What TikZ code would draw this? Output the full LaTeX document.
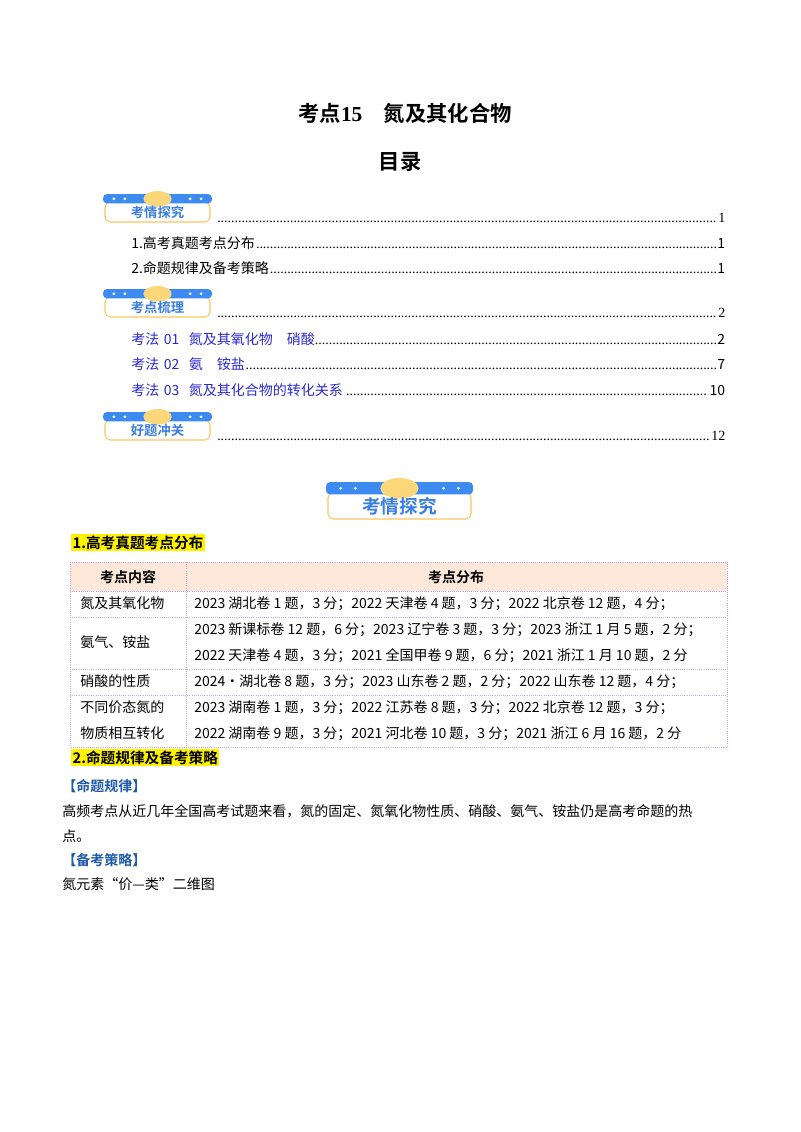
\documentclass[tikz,border=0pt]{standalone}
\usepackage{fontspec}
\setmainfont{Liberation Serif}
\newfontfamily\cjk{Noto Sans CJK SC}
\newfontfamily\cjkb{Noto Sans CJK SC Bold}
\newcommand{\dfill}{\leaders\hbox to 2.6pt{\hss\rmfamily.\hss}\hfill}
\begin{document}
\begin{tikzpicture}[x=0.75pt,y=-0.75pt,
  body/.style={font=\fontsize{10.5pt}{13pt}\selectfont, inner sep=0pt},
  tocrow/.style={body, anchor=base west, text width=#1*0.75pt, align=left},
  hl/.style={fill=yellow, inner sep=1pt, anchor=base west, font=\fontsize{11pt}{13pt}\selectfont},
  cell/.style={body, anchor=base west},
  tline/.style={draw=tabline, densely dotted, line width=0.6pt},
  sect/.style={body, anchor=base west, text=sectblue}
]
\definecolor{tocblue}{HTML}{2A2AD0}
\definecolor{badgeblue}{HTML}{3D8BF0}
\definecolor{badgeyel}{HTML}{FCD77A}
\definecolor{badgetext}{HTML}{3A7FE0}
\definecolor{tabline}{HTML}{C9A6DC}
\definecolor{tabhead}{HTML}{FDE8DA}
\definecolor{sectblue}{HTML}{1F5BA8}
\useasboundingbox (0,0) rectangle (800,1132);
\fill[white] (0,0) rectangle (800,1132);
\newcommand{\mybadgeT}[6]{%
  \pgfmathsetmacro{\bm}{(#1+#3)/2}%
  \pgfmathsetmacro{\bh}{(#4-#2)}%
  \pgfmathsetmacro{\bw}{(#3-#1)}%
  \draw[badgeyel!80!orange, line width=0.8pt, fill=white, rounded corners=4pt] ({#1+2},{#2+0.35*\bh}) rectangle ({#3-2},{#4});
  \fill[badgeblue, rounded corners=3pt] ({#1},{#2+0.1*\bh}) rectangle ({#3},{#2+0.4*\bh});
  \fill[badgeyel] ({\bm},{#2+0.25*\bh}) ellipse ({0.13*\bw} and {0.25*\bh});
  \foreach \dx in {0.1,0.2} {\fill[white] ({#1+\dx*\bw},{#2+0.25*\bh}) circle (1.5);
    \fill[white] ({#3-\dx*\bw},{#2+0.25*\bh}) circle (1.5);}
  \node[text=badgetext, font=\cjkb\fontsize{#5}{#5}\selectfont, inner sep=0pt] at ({\bm},{#2+0.7*\bh}) {#6};
}
% titles
\node[font=\cjkb\fontsize{16pt}{18pt}\selectfont] (title) at (405,113) {考点{\rmfamily\bfseries 15}\quad 氮及其化合物};
\node[font=\cjkb\fontsize{16pt}{18pt}\selectfont] (mulu) at (400,162) {目录};
% TOC
\mybadgeT{103}{191}{212}{222}{10pt}{考情探究}
\node[tocrow=508] (t0) at (217,222) {\dfill 1};
\node[tocrow=594] (t1) at (131,248) {\cjk 1.高考真题考点分布\dfill 1};
\node[tocrow=594] (t2) at (131,273) {\cjk 2.命题规律及备考策略\dfill 1};
\mybadgeT{103}{286}{212}{317}{10pt}{考点梳理}
\node[tocrow=508] (t3) at (217,317) {\dfill 2};
\node[tocrow=594] (t4) at (131,344) {\cjk{\color{tocblue}考法 01\ \ 氮及其氧化物\quad 硝酸}\dfill 2};
\node[tocrow=594] (t5) at (131,369) {\cjk{\color{tocblue}考法 02\ \ 氨\quad 铵盐}\dfill 7};
\node[tocrow=594] (t6) at (131,395) {\cjk{\color{tocblue}考法 03\ \ 氮及其化合物的转化关系}\dfill 10};
\mybadgeT{103}{409}{212}{440}{10pt}{好题冲关}
\node[tocrow=508] (t7) at (217,440) {\dfill 12};
% big badge
\mybadgeT{326}{478}{473}{519}{14pt}{考情探究}
% section 1
\node[hl] (h1) at (71,548) {\cjkb 1.高考真题考点分布};
% table
\fill[tabhead] (70,562) rectangle (727,591);
\draw[tline] (70,562) rectangle (727,747);
\foreach \yy in {591,617,669,695} \draw[tline] (70,\yy) -- (727,\yy);
\draw[tline] (186,562) -- (186,747);
\node[body, font=\cjkb\fontsize{10.5pt}{13pt}\selectfont] (c00) at (128,577) {考点内容};
\node[body, font=\cjkb\fontsize{10.5pt}{13pt}\selectfont] (c01) at (456,577) {考点分布};
\node[cell] (r1a) at (80,608) {\cjk 氮及其氧化物};
\node[cell] (r1b) at (194,608) {\cjk 2023 湖北卷 1 题，3 分；2022 天津卷 4 题，3 分；2022 北京卷 12 题，4 分；};
\node[cell] (r2a) at (80,647) {\cjk 氨气、铵盐};
\node[cell] (r2b) at (194,634) {\cjk 2023 新课标卷 12 题，6 分；2023 辽宁卷 3 题，3 分；2023 浙江 1 月 5 题，2 分；};
\node[cell] (r2c) at (194,660) {\cjk 2022 天津卷 4 题，3 分；2021 全国甲卷 9 题，6 分；2021 浙江 1 月 10 题，2 分};
\node[cell] (r3a) at (80,686) {\cjk 硝酸的性质};
\node[cell] (r3b) at (194,686) {\cjk 2024·湖北卷 8 题，3 分；2023 山东卷 2 题，2 分；2022 山东卷 12 题，4 分；};
\node[cell] (r4a) at (80,712) {\cjk 不同价态氮的};
\node[cell] (r4c) at (80,738) {\cjk 物质相互转化};
\node[cell] (r4b) at (194,712) {\cjk 2023 湖南卷 1 题，3 分；2022 江苏卷 8 题，3 分；2022 北京卷 12 题，3 分；};
\node[cell] (r4d) at (194,738) {\cjk 2022 湖南卷 9 题，3 分；2021 河北卷 10 题，3 分；2021 浙江 6 月 16 题，2 分};
% section 2
\node[hl] (h2) at (71,763) {\cjkb 2.命题规律及备考策略};
\node[sect] (s1) at (62,791) {\cjkb 【命题规律】};
\node[cell] (p1) at (62,816) {\cjk 高频考点从近几年全国高考试题来看，氮的固定、氮氧化物性质、硝酸、氨气、铵盐仍是高考命题的热};
\node[cell] (p2) at (62,841) {\cjk 点。};
\node[sect] (s2) at (62,865) {\cjkb 【备考策略】};
\node[cell] (p3) at (62,889) {\cjk 氮元素“价—类”二维图};
\end{tikzpicture}
\end{document}
